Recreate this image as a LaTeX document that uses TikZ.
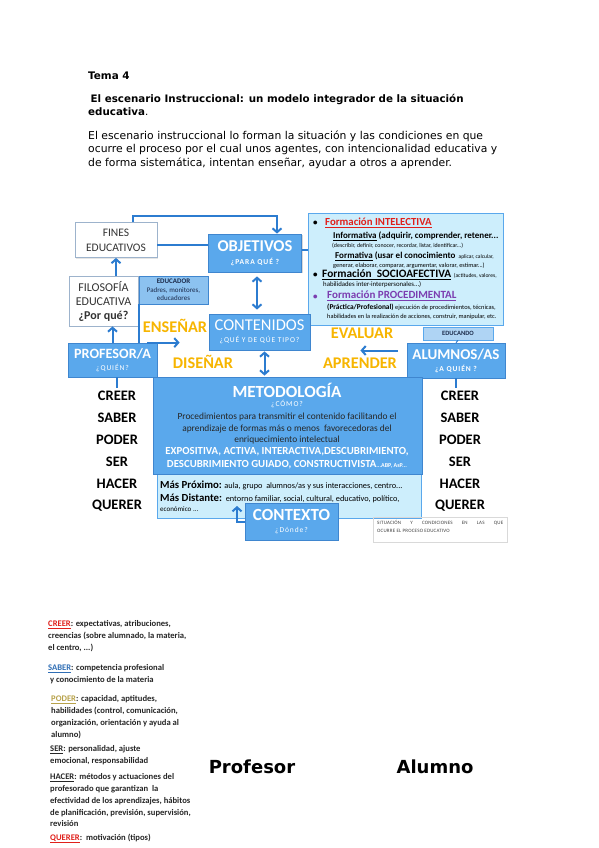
\documentclass[tikz,border=0pt]{standalone}
\usepackage{fontspec}
\setmainfont{DejaVu Sans}
\newfontfamily\carlito{Carlito}
\usetikzlibrary{arrows.meta,shadows}

\definecolor{boxblue}{HTML}{5AA8EC}
\definecolor{boxedge}{HTML}{3F86CF}
\definecolor{linkblue}{HTML}{2C7CD0}
\definecolor{paleblue}{HTML}{CDEEFC}
\definecolor{midblue}{HTML}{8CC2F0}
\definecolor{edgegray}{HTML}{9DB3CC}
\definecolor{navy}{HTML}{1B2A4A}
\definecolor{gold}{HTML}{F7B500}
\definecolor{redtxt}{HTML}{E0201B}
\definecolor{purpletxt}{HTML}{7B3DB0}
\definecolor{sabertxt}{HTML}{2F6EB5}
\definecolor{podertxt}{HTML}{B8A24A}

\newcommand\fsz[2]{\fontsize{#1}{#2}\selectfont}
\newcommand\subt[1]{{\fsz{7.5}{9}\addfontfeature{LetterSpace=12}#1}}

\begin{document}
\begin{tikzpicture}[x=1pt,y=-1pt,
    box/.style={line width=0.8pt, align=center, inner sep=0pt, font=\carlito},
    bluebox/.style={box, draw=boxedge, fill=boxblue, text=white,
        drop shadow={shadow xshift=1.2pt, shadow yshift=-1.2pt, opacity=0.3}},
    whitebox/.style={box, draw=edgegray, fill=white, text=black!80,
        drop shadow={shadow xshift=1.2pt, shadow yshift=-1.2pt, opacity=0.2}},
    palebox/.style={box, draw=boxblue, fill=paleblue},
    txt/.style={anchor=west, inner sep=0pt},
    link/.style={draw=linkblue, line width=2pt},
    arrow/.style={link, -{Straight Barb[length=4pt,width=9pt]}},
    dblarrow/.style={link, {Straight Barb[length=4pt,width=9pt]}-{Straight Barb[length=4pt,width=9pt]}},
    verb/.style={font=\carlito\bfseries\fsz{16.3}{18}, text=gold},
    skill/.style={font=\carlito\bfseries\fsz{14.5}{16}},
    note/.style={anchor=north west, inner sep=0pt, align=left, font=\carlito\bfseries\fsz{8.6}{11.8}, text=black!85},
    ]
    \fill[white] (0,0) rectangle (599,848);
    \useasboundingbox (0,0) rectangle (599,848);

    % header
    \node[anchor=north west, inner sep=0pt, font=\bfseries\fsz{10.4}{12}] (tema) at (88,72) {Tema 4};
    \node[anchor=north west, inner sep=0pt, align=left, font=\bfseries\fsz{10.3}{13}] (titulo) at (88,94.5)
        {\hspace{2.5pt}El escenario Instruccional: un modelo integrador de la situación\\educativa{\mdseries .}};
    \node[anchor=north west, inner sep=0pt, align=left, font=\fsz{10.8}{13.4}] (intro) at (88,130.5)
        {El escenario instruccional lo forman la situación y las condiciones en que\\
         ocurre el proceso por el cual unos agentes, con intencionalidad educativa y\\
         de forma sistemática, intentan enseñar, ayudar a otros a aprender.};

    % boxes
    \node[whitebox, minimum width=82pt, minimum height=35pt, font=\carlito\fsz{11.5}{15}] (fines) at (116,240) {FINES\\EDUCATIVOS};
    \node[bluebox, minimum width=93pt, minimum height=38pt] (objetivos) at (255,253)
        {{\bfseries\fsz{16.5}{16}OBJETIVOS}\\[1pt]{\bfseries\subt{¿PARA QUÉ ?}}};
    \node[palebox, line width=1pt, minimum width=195pt, minimum height=112pt] (formacion) at (405.5,269) {};
    \node[box, draw=boxedge, fill=midblue, minimum width=69pt, minimum height=28pt, text=navy, font=\carlito\fsz{7}{8.3}] (educador) at (173.5,290)
        {{\bfseries EDUCADOR}\\Padres, monitores,\\educadores};
    \node[whitebox, minimum width=69pt, minimum height=50pt, font=\carlito\fsz{12}{14}] (filosofia) at (103.5,301)
        {FILOSOFÍA\\EDUCATIVA\\{\bfseries ¿Por qué?}};
    \node[bluebox, minimum width=101pt, minimum height=36pt] (contenidos) at (259.5,332)
        {{\fsz{16.5}{16}CONTENIDOS}\\{\subt{¿QUÉ Y DE QÚE TIPO?}}};
    \node[bluebox, minimum width=89pt, minimum height=34pt] (profesor) at (112.5,360)
        {{\bfseries\fsz{14.2}{15}PROFESOR/A}\\{\subt{¿QUIÉN?}}};
    \node[box, draw=boxblue, fill=midblue!70, minimum width=70pt, minimum height=13pt, text=navy, font=\carlito\bfseries\fsz{6.5}{7}] (educando) at (458,333.5) {EDUCANDO};
    \node[bluebox, minimum width=98pt, minimum height=35pt] (alumnos) at (456,360.5)
        {{\bfseries\fsz{15}{15}ALUMNOS/AS}\\{\bfseries\subt{¿A QUIÉN ?}}};
    \node[palebox, minimum width=264pt, minimum height=44pt] (entorno) at (289,496) {};
    \node[bluebox, minimum width=269pt, minimum height=97pt] (metodologia) at (287.5,425.5) {};
    \node[bluebox, minimum width=93pt, minimum height=37pt] (contexto) at (291.5,521.5)
        {{\bfseries\fsz{17}{16}CONTEXTO}\\{\subt{¿Dónde?}}};
    \node[box, draw=black!15, line width=0.4pt, minimum width=134pt, minimum height=25pt] (situacion) at (440,529.5) {};

    % formacion texts
    \node[txt, font=\carlito\bfseries\fsz{9}{9}] (bulA) at (313,223) {•};
    \node[txt, font=\carlito\bfseries\fsz{10.8}{11}, text=redtxt] (intelectiva) at (325,223) {\underline{Formación INTELECTIVA}};
    \node[txt, font=\carlito\bfseries\fsz{9}{10}] (informativa) at (333,236.5) {\underline{Informativa} (adquirir, comprender, retener...};
    \node[txt, font=\carlito\fsz{5.9}{6}] (informativaB) at (332,245.5) {(describir, definir, conocer, recordar, listar, identificar...)};
    \node[txt, font=\carlito\bfseries\fsz{9}{10}] (formativa) at (335,256.5) {\underline{Formativa} (usar el conocimiento {\mdseries\fsz{5.5}{6} aplicar, calcular,}};
    \node[txt, font=\carlito\fsz{6.3}{6}] (formativaB) at (333,265.5) {generar, elaborar, comparar, argumentar, valorar, estimar...)};
    \node[txt, font=\carlito\bfseries\fsz{9}{9}] (bulB) at (313,275) {•};
    \node[txt, font=\carlito\bfseries\fsz{11.3}{11}] (socio) at (322,275) {\underline{Formación\ \ SOCIOAFECTIVA} {\mdseries\fsz{5.6}{6}(actitudes, valores,}};
    \node[txt, font=\carlito\fsz{6.8}{6}] (socioB) at (323,285) {habilidades inter-interpersonales...)};
    \node[txt, font=\carlito\bfseries\fsz{9}{9}, text=purpletxt] (bulC) at (313,297) {•};
    \node[txt, font=\carlito\bfseries\fsz{11}{11}, text=purpletxt] (procedimental) at (327,296) {\underline{Formación PROCEDIMENTAL}};
    \node[txt, font=\carlito\fsz{6.4}{6}] (procA) at (327,307.5) {{\bfseries\fsz{7.4}{7}(Práctica/Profesional)} ejecución de procedimientos, técnicas,};
    \node[txt, font=\carlito\fsz{6.3}{6}] (procB) at (327,317) {habilidades en la realización de acciones, construir, manipular, etc.};

    % metodologia texts
    \node[inner sep=0pt, font=\carlito\bfseries\fsz{17}{18}, text=white] (metT) at (287,390) {METODOLOGÍA};
    \node[inner sep=0pt, font=\carlito, text=white] (metQ) at (287,404) {\subt{¿CÓMO?}};
    \node[font=\carlito\fsz{9.4}{11.7}, text=black!85, align=center] (metP) at (287,428.5)
        {Procedimientos para transmitir el contenido facilitando el\\aprendizaje de formas más o menos\ \ favorecedoras del\\enriquecimiento intelectual};
    \node[font=\carlito\bfseries\fsz{10.8}{13}, text=white, align=center] (metE) at (287,458.5)
        {EXPOSITIVA, ACTIVA, INTERACTIVA,DESCUBRIMIENTO,\\DESCUBRIMIENTO GUIADO, CONSTRUCTIVISTA{\fsz{6}{6}...ABP, AsP...}};

    % entorno texts
    \node[txt, font=\carlito\fsz{8.3}{8}] (proximo) at (160,485) {{\bfseries\fsz{10.8}{10}Más Próximo:} aula, grupo\ \ alumnos/as y sus interacciones, centro...};
    \node[txt, font=\carlito\fsz{8.3}{8}] (distante) at (160,498) {{\bfseries\fsz{10.8}{10}Más Distante:}\ \ entorno familiar, social, cultural, educativo, político,};
    \node[txt, font=\carlito\fsz{7}{8}] (economico) at (160,509.5) {económico ...};
    \node[txt, align=left, font=\carlito\fsz{5}{8}\addfontfeature{LetterSpace=4}, text=black!75] (situacionT) at (377,526)
        {\makebox[126pt][s]{SITUACIÓN Y CONDICIONES EN LAS QUE}\\OCURRE EL PROCESO EDUCATIVO};

    % verbs
    \node[verb] (ensenar) at (175,326) {ENSEÑAR};
    \node[verb] (disenar) at (203,362) {DISEÑAR};
    \node[verb] (evaluar) at (362,333) {EVALUAR};
    \node[verb] (aprender) at (360,363) {APRENDER};

    % skills
    \foreach \verbo [count=\i] in {CREER,SABER,PODER,SER,HACER,QUERER} {
        \node[skill] (prof\i) at (117,{374+22*\i}) {\verbo};
        \node[skill] (alum\i) at (460,{374+22*\i}) {\verbo};
    }

    % connectors
    \draw[arrow] ([xshift=17pt]fines.north) -- ++(0,-6) -| ([xshift=22pt]objetivos.north);
    \draw[link] ([yshift=-5pt]fines.east) -- ([yshift=-5pt]fines.east -| objetivos.west);
    \draw[link] ([yshift=3pt]objetivos.east) -- ([yshift=3pt]objetivos.east -| formacion.west);
    \draw[arrow] (fines.south |- filosofia.north) -- (fines.south);
    \draw[arrow] (profesor.north) -- (profesor.north |- filosofia.south);
    \draw[link] (educador.south west) -- (educador.south west |- profesor.north);
    \draw[dblarrow, shorten <=4pt, shorten >=4pt] ([xshift=2pt]objetivos.south) -- ([xshift=2pt]objetivos.south |- contenidos.north);
    \draw[dblarrow, shorten <=1pt, shorten >=1pt] ([xshift=5pt]contenidos.south) -- ([xshift=5pt]contenidos.south |- metodologia.north);
    \draw[arrow, shorten >=19pt] ([xshift=-10pt]profesor.north east) -- ([xshift=-10pt]profesor.north east -| contenidos.west);
    \draw[arrow, shorten <=9pt, shorten >=50pt] ([yshift=10pt]alumnos.west) -- ([yshift=10pt]alumnos.west -| contenidos.east);
    \draw[link, line width=1pt] (educando.south) -- (alumnos.north);
    \draw[link] ([xshift=4pt]profesor.south) -- ([xshift=4pt]profesor.south |- prof1.north);
    \draw[link] (alumnos.south) -- (alumnos.south |- alum1.north);
    \coordinate (ctxin) at (237,506);
    \draw[arrow] (contexto.west) -| (ctxin);

    % notes
    \node[note] (nCreer) at (48,620.5) {\textcolor{redtxt}{\underline{CREER}}: expectativas, atribuciones,\\creencias (sobre alumnado, la materia,\\el centro, ...)};
    \node[note] (nSaber) at (48,664.5) {\textcolor{sabertxt}{\underline{SABER}}: competencia profesional\\\ y conocimiento de la materia};
    \node[note] (nPoder) at (51,695.5) {\textcolor{podertxt}{\underline{PODER}}: capacidad, aptitudes,\\habilidades (control, comunicación,\\organización, orientación y ayuda al\\alumno)};
    \node[note] (nSer) at (50,745.5) {\underline{SER}: personalidad, ajuste\\emocional, responsabilidad};
    \node[note] (nHacer) at (50,773.5) {\underline{HACER}: métodos y actuaciones del\\profesorado que garantizan\ \ la\\efectividad de los aprendizajes, hábitos\\de planificación, previsión, supervisión,\\revisión};
    \node[note] (nQuerer) at (50,833.5) {\textcolor{redtxt}{\underline{QUERER}}:\ \ motivación (tipos)};

    \node[font=\bfseries\fsz{18}{20}] (profesorLbl) at (252,767) {Profesor};
    \node[font=\bfseries\fsz{18}{20}] (alumnoLbl) at (435,767) {Alumno};
\end{tikzpicture}
\end{document}
